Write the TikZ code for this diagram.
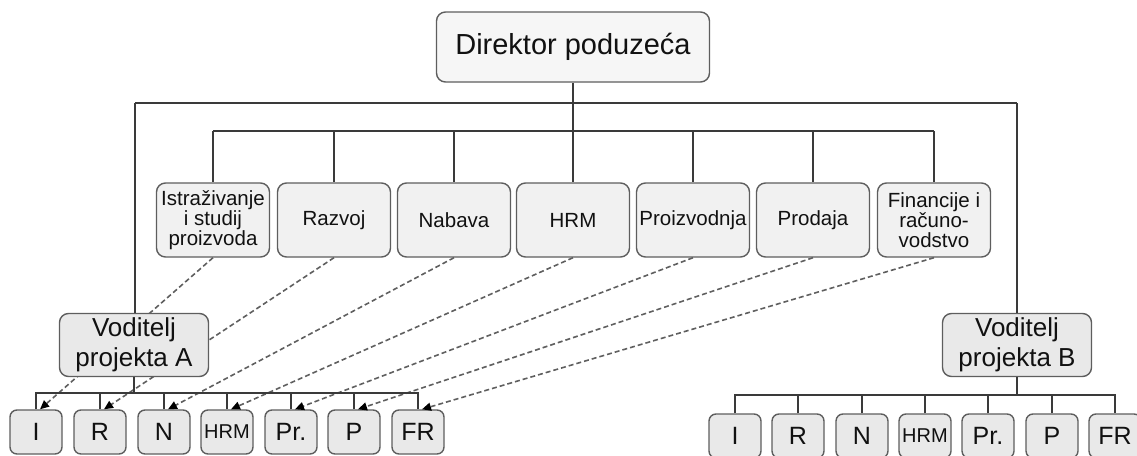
\documentclass[tikz,border=0pt]{standalone}
\usepackage{fontspec}
\setmainfont{Liberation Sans}
\usetikzlibrary{arrows.meta}
\definecolor{boxline}{HTML}{5E5E5E}
\definecolor{conn}{HTML}{3A3A3A}
\definecolor{dashc}{HTML}{5F5F5F}
\definecolor{txt}{HTML}{111111}
\definecolor{fillA}{HTML}{F6F6F6}
\definecolor{fillB}{HTML}{F1F1F1}
\definecolor{fillC}{HTML}{E9E9E9}
\tikzset{
  basebox/.style={draw=boxline, line width=1.4pt, rounded corners=9pt, inner sep=0pt, align=center, text=txt},
  topbox/.style={basebox, fill=fillA, minimum width=273pt, minimum height=70pt, font=\fontsize{29}{34}\selectfont},
  deptbox/.style={basebox, fill=fillB, minimum width=113pt, minimum height=74pt, font=\fontsize{20.5}{20}\selectfont},
  mgrbox/.style={basebox, fill=fillC, minimum width=149pt, minimum height=63pt, font=\fontsize{26}{30}\selectfont},
  smallbox/.style={basebox, fill=fillC, rounded corners=7pt, minimum width=52pt, minimum height=44pt, font=\fontsize{25}{28}\selectfont},
  tree/.style={draw=conn, line width=1.3pt},
  link/.style={draw=dashc, line width=1.6pt, dash pattern=on 5pt off 3pt, -{Triangle[length=9pt,width=8pt,color=black]}}
}
\begin{document}
\begin{tikzpicture}[x=1pt,y=-1pt]
\useasboundingbox (0,0) rectangle (1137,455);
% coordinates for buses
\coordinate (busL) at (135,103);
\coordinate (busR) at (1017,103);
% nodes
\node[topbox] (dir) at (573,47) {Direktor poduzeća};
\node[deptbox] (d1) at (213,220) {Istraživanje\\i studij\\proizvoda};
\node[deptbox] (d2) at (334,220) {Razvoj};
\node[deptbox] (d3) at (454,220) {Nabava};
\node[deptbox] (d4) at (573,220) {HRM};
\node[deptbox] (d5) at (693,220) {Proizvodnja};
\node[deptbox] (d6) at (813,220) {Prodaja};
\node[deptbox] (d7) at (934,220) {Financije i\\računo-\\vodstvo};
% small boxes A
\node[smallbox] (a1) at (36,432) {I};
\node[smallbox] (a2) at (100,432) {R};
\node[smallbox] (a3) at (164,432) {N};
\node[smallbox, font=\fontsize{20}{24}\selectfont] (a4) at (227,432) {HRM};
\node[smallbox] (a5) at (291,432) {Pr.};
\node[smallbox] (a6) at (354,432) {P};
\node[smallbox] (a7) at (418,432) {FR};
% small boxes B
\node[smallbox] (b1) at (735,436) {I};
\node[smallbox] (b2) at (798,436) {R};
\node[smallbox] (b3) at (862,436) {N};
\node[smallbox, font=\fontsize{20}{24}\selectfont] (b4) at (925,436) {HRM};
\node[smallbox] (b5) at (988,436) {Pr.};
\node[smallbox] (b6) at (1052,436) {P};
\node[smallbox] (b7) at (1115,436) {FR};
% dashed links (under the manager box)
\foreach \i in {1,...,7} {
  \draw[link] (d\i.south) -- ([xshift=4pt]a\i.north);
}
% tree connectors
\draw[tree] (busL) -- (busR);
\draw[tree] (dir.south) -- (dir.south |- 0,131);
\draw[tree] (d1.north |- 0,131) -- (d7.north |- 0,131);
\foreach \i in {1,...,7} {
  \draw[tree] (d\i.north |- 0,131) -- (d\i.north);
}
\node[mgrbox] (mA) at (134,345) {Voditelj\\projekta A};
\node[mgrbox] (mB) at (1017,345) {Voditelj\\projekta B};
\draw[tree] (busL) -- (busL |- mA.north);
\draw[tree] (busR) -- (mB.north);
% bottom buses
\draw[tree, line width=2pt] (mA.south) -- (mA.south |- 0,393);
\draw[tree] (a1.north) -- (a1.north |- 0,393) -- (a7.north |- 0,393) -- (a7.north);
\foreach \i in {2,...,6} { \draw[tree] (a\i.north) -- (a\i.north |- 0,393); }
\draw[tree, line width=2pt] (mB.south) -- (mB.south |- 0,395);
\draw[tree] (b1.north) -- (b1.north |- 0,395) -- (b7.north |- 0,395) -- (b7.north);
\foreach \i in {2,...,6} { \draw[tree] (b\i.north) -- (b\i.north |- 0,395); }
\end{tikzpicture}
\end{document}
